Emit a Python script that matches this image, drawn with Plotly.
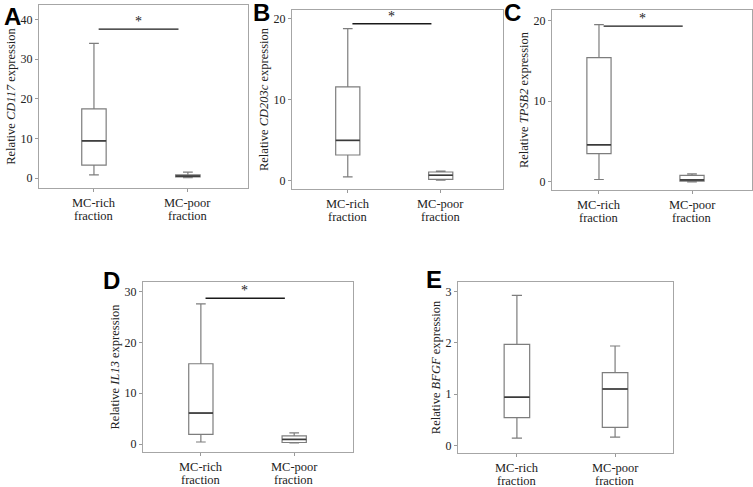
import plotly.graph_objects as go

# gene names per panel
panels = ["A", "B", "C", "D", "E"]
genes = ["CD117", "CD203c", "TPSB2", "IL13", "BFGF"]
cat_line1 = ["MC-rich", "MC-poor"]
cat_line2 = ["fraction", "fraction"]

# box statistics: [MC-rich, MC-poor]
lower = [[0.8, 0.1], [0.5, 0.1], [0.3, 0.0], [0.4, 0.2], [0.14, 0.16]]
q1 = [[3.3, 0.3], [3.2, 0.2], [3.5, 0.1], [1.9, 0.3], [0.54, 0.35]]
median = [[9.4, 0.5], [5.0, 0.7], [4.6, 0.25], [6.1, 0.9], [0.94, 1.10]]
q3 = [[17.5, 0.8], [11.6, 1.1], [15.4, 0.8], [15.8, 1.6], [1.97, 1.42]]
upper = [[34.0, 1.5], [18.8, 1.2], [19.5, 1.0], [27.6, 2.2], [2.93, 1.94]]

# significance bar height (None = no bar)
bracket_y = [37.6, 19.4, 19.3, 28.7, None]

W, H = 753, 487
# frames in pixels: left, right, top, bottom
frames = [(39, 248, 5, 188), (292, 503, 10, 189), (552, 752, 10, 190),
          (143, 353, 282, 452), (458, 673, 282, 453)]
xranges = [[-0.585, 1.64], [-0.60, 1.67], [-0.505, 1.645], [-0.62, 1.63], [-0.60, 1.59]]
yranges = [[-2.5, 43.7], [-1.0, 21.1], [-1.0, 21.3], [-1.57, 31.9], [-0.15, 3.19]]
dticks = [10, 10, 10, 10, 1]

serif = "Liberation Serif"
fig = go.Figure()
layout = {}
bw = 0.26

for i in range(5):
    sfx = "" if i == 0 else str(i + 1)
    xa, ya = "x" + sfx, "y" + sfx
    fig.add_trace(go.Box(
        x=[0, 1], q1=q1[i], median=median[i], q3=q3[i],
        lowerfence=lower[i], upperfence=upper[i],
        width=bw, whiskerwidth=0.4, fillcolor="white",
        line=dict(color="#7d7d7d", width=1.2),
        boxpoints=False, hoverinfo="skip",
        xaxis=xa, yaxis=ya, showlegend=False))
    # darker median lines
    for j in range(2):
        fig.add_trace(go.Scatter(
            x=[j - bw / 2, j + bw / 2], y=[median[i][j]] * 2, mode="lines",
            line=dict(color="#3a3a3a", width=1.6),
            xaxis=xa, yaxis=ya, showlegend=False, hoverinfo="skip"))
    if bracket_y[i] is not None:
        fig.add_trace(go.Scatter(
            x=[0.05, 0.9], y=[bracket_y[i]] * 2, mode="lines",
            line=dict(color="#1a1a1a", width=1.3),
            xaxis=xa, yaxis=ya, showlegend=False, hoverinfo="skip"))
        fig.add_annotation(x=0.47, y=bracket_y[i], xref=xa, yref=ya,
                           text="*", showarrow=False, yanchor="bottom", yshift=-2,
                           font=dict(family=serif, size=14, color="#1a1a1a"))

    l, r, t, b = frames[i]
    # two-line category labels under each box
    for j in range(2):
        for txt, dy in ((cat_line1[j], 15), (cat_line2[j], 28)):
            fig.add_annotation(x=j, y=1 - (b + dy) / H, xref=xa, yref="paper",
                               text=txt, showarrow=False, yanchor="middle",
                               font=dict(family=serif, size=12.5, color="#222"))
    layout["xaxis" + sfx] = dict(
        domain=[l / W, r / W], anchor=ya, range=xranges[i],
        tickvals=[0, 1], showticklabels=False, ticks="outside", ticklen=3,
        tickcolor="#999", showline=True, linecolor="#a6a6a6", linewidth=1.2,
        mirror=True, showgrid=False, zeroline=False)
    layout["yaxis" + sfx] = dict(
        domain=[1 - b / H, 1 - t / H], anchor=xa, range=yranges[i],
        dtick=dticks[i], ticks="outside", ticklen=3, tickcolor="#999",
        showline=True, linecolor="#a6a6a6", linewidth=1.2, mirror=True,
        showgrid=False, zeroline=False,
        tickfont=dict(family=serif, size=12, color="#222"),
        title=dict(text="Relative <i>%s</i> expression" % genes[i], standoff=2,
                   font=dict(family=serif, size=12.5, color="#222")))

# panel letters
letter_pos = [(2, 16), (251, 12), (502, 12), (101, 280), (424, 279)]
for k, (px_, py_) in zip(panels, letter_pos):
    fig.add_annotation(x=px_ / W, y=1 - py_ / H, xref="paper", yref="paper",
                       text="<b>%s</b>" % k, showarrow=False,
                       xanchor="left", yanchor="middle",
                       font=dict(family="Liberation Sans", size=24, color="black"))

fig.update_layout(width=W, height=H, margin=dict(l=0, r=0, t=0, b=0),
                  font=dict(family=serif, color="#222"),
                  plot_bgcolor="white", paper_bgcolor="white", **layout)
# page body has an 8px default margin; drop it so the figure sits at the corner
fig.write_html("out.html", config={"displayModeBar": False},
               post_script="document.body.style.margin='0';")
